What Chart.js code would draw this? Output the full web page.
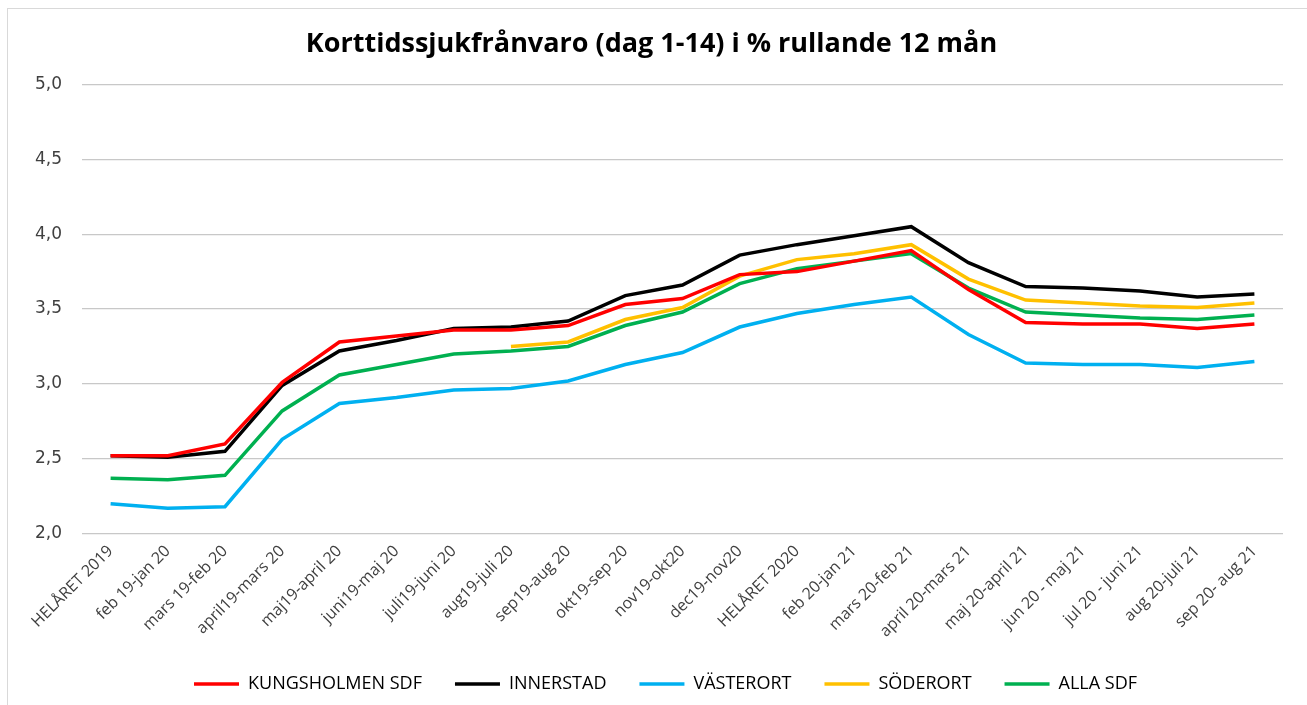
<!DOCTYPE html>
<html>
<head>
<meta charset="utf-8">
<script src="https://cdn.jsdelivr.net/npm/chart.js@4.4.1/dist/chart.umd.min.js"></script>
<style>
  html, body { margin: 0; padding: 0; background: #fff; overflow: hidden; }
  #frame { position: absolute; left: 7px; top: 8px; width: 1400px; height: 800px;
           border-left: 1px solid #d9d9d9; border-top: 1px solid #d9d9d9; }
  #wrap { position: absolute; left: 0; top: 0; width: 1307px; height: 705px; }
</style>
</head>
<body>
<div id="frame"></div>
<div id="wrap"><canvas id="sickChart" width="1307" height="705"></canvas></div>
<script>
const labels = [
  "HELÅRET 2019", "feb 19-jan 20", "mars 19-feb 20", "april19-mars 20", "maj19-april 20",
  "juni19-maj 20", "juli19-juni 20", "aug19-juli 20", "sep19-aug 20", "okt19-sep 20",
  "nov19-okt20", "dec19-nov20", "HELÅRET 2020", "feb 20-jan 21", "mars 20-feb 21",
  "april 20-mars 21", "maj 20-april 21", "jun 20 - maj 21", "jul 20 - juni 21",
  "aug 20-juli 21", "sep 20- aug 21"
];

const kungsholmen = [2.52, 2.52, 2.60, 3.01, 3.28, 3.32, 3.36, 3.36, 3.39, 3.53, 3.57,
  3.73, 3.75, 3.82, 3.89, 3.63, 3.41, 3.40, 3.40, 3.37, 3.40];
const innerstad = [2.52, 2.51, 2.55, 2.99, 3.22, 3.29, 3.37, 3.38, 3.42, 3.59, 3.66,
  3.86, 3.93, 3.99, 4.05, 3.81, 3.65, 3.64, 3.62, 3.58, 3.60];
const vasterort = [2.20, 2.17, 2.18, 2.63, 2.87, 2.91, 2.96, 2.97, 3.02, 3.13, 3.21,
  3.38, 3.47, 3.53, 3.58, 3.33, 3.14, 3.13, 3.13, 3.11, 3.15];
const soderort = [null, null, null, null, null, null, null, 3.25, 3.28, 3.43, 3.51,
  3.72, 3.83, 3.87, 3.93, 3.70, 3.56, 3.54, 3.52, 3.51, 3.54];
const allaSdf = [2.37, 2.36, 2.39, 2.82, 3.06, 3.13, 3.20, 3.22, 3.25, 3.39, 3.48,
  3.67, 3.77, 3.82, 3.87, 3.64, 3.48, 3.46, 3.44, 3.43, 3.46];

const yMin = 2.0, yMax = 5.0, yStep = 0.5;

const mkLine = (label, data, color) => ({
  label, data,
  borderColor: color, backgroundColor: color,
  borderWidth: 3.5, pointRadius: 0, tension: 0, spanGaps: false,
});

// move the legend a bit right and down, like the original
const legendShift = {
  id: "legendShift",
  afterLayout(chart) {
    chart.legend.left += 14;
    chart.legend.right += 14;
    chart.legend.top += 1;
    chart.legend.bottom += 1;
  },
};

new Chart(document.getElementById("sickChart"), {
  type: "line",
  data: {
    labels,
    datasets: [
      mkLine("KUNGSHOLMEN SDF", kungsholmen, "#ff0000"),
      mkLine("INNERSTAD", innerstad, "#000000"),
      mkLine("VÄSTERORT", vasterort, "#00b0f0"),
      mkLine("SÖDERORT", soderort, "#ffc000"),
      mkLine("ALLA SDF", allaSdf, "#00b050"),
    ],
  },
  plugins: [legendShift],
  options: {
    responsive: false,
    animation: false,
    layout: { padding: { top: 14, left: 20, right: 24, bottom: 3 } },
    plugins: {
      title: {
        display: true,
        text: "Korttidssjukfrånvaro (dag 1-14) i % rullande 12 mån",
        color: "#000",
        font: { family: "'Open Sans', sans-serif", size: 27, weight: "bold" },
        padding: { top: 14, bottom: 24 },
      },
      legend: {
        position: "bottom",
        labels: {
          usePointStyle: true,
          pointStyle: "line",
          pointStyleWidth: 45,
          padding: 33,
          color: "#000",
          font: { family: "'Open Sans', sans-serif", size: 18 },
        },
      },
      tooltip: { enabled: false },
    },
    scales: {
      x: {
        offset: true,
        grid: { display: false },
        border: { display: false },
        ticks: {
          minRotation: 45, maxRotation: 45, autoSkip: false,
          color: "#404040",
          font: { family: "'Open Sans', sans-serif", size: 16 },
          padding: 0,
        },
      },
      y: {
        min: yMin, max: yMax,
        afterFit: (scale) => { scale.width = 62; },
        ticks: {
          stepSize: yStep,
          padding: 20,
          color: "#404040",
          font: { family: "'DejaVu Sans', sans-serif", size: 17 },
          callback: (v) => v.toFixed(1).replace(".", ","),
        },
        grid: { color: "#c8c8c8", lineWidth: 1.2, drawTicks: false },
        border: { display: false },
      },
    },
  },
});
</script>
</body>
</html>
